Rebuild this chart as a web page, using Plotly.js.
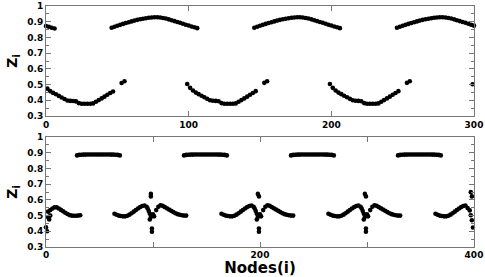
<!DOCTYPE html>
<html>
<head>
<meta charset="utf-8">
<script src="https://cdn.plot.ly/plotly-3.0.1.min.js"></script>
<style>html,body{margin:0;padding:0;background:#fff;}#chart{width:485px;height:277px;}</style>
</head>
<body>
<div id="chart"></div>
<script>
// ---------- Top panel (N = 300) ----------
var topUpperNodes = [0,2,4,6,
  46,48,50,52,54,56,58,60,62,64,66,68,70,72,74,76,78,80,82,84,86,88,90,92,94,96,98,100,102,104,106,
  146,148,150,152,154,156,158,160,162,164,166,168,170,172,174,176,178,180,182,184,186,188,190,192,194,196,198,200,202,204,206,
  246,248,250,252,254,256,258,260,262,264,266,268,270,272,274,276,278,280,282,284,286,288,290,292,294,296,298,300];
var topUpperZ = [0.873,0.868,0.862,0.857,
  0.862,0.868,0.874,0.880,0.886,0.892,0.897,0.902,0.907,0.912,0.916,0.919,0.922,0.925,0.927,0.928,0.928,0.927,0.924,0.920,0.915,0.909,0.904,0.898,0.893,0.887,0.881,0.876,0.870,0.865,0.859,
  0.862,0.868,0.874,0.880,0.886,0.892,0.897,0.902,0.907,0.912,0.916,0.919,0.922,0.925,0.927,0.928,0.928,0.927,0.924,0.920,0.915,0.909,0.904,0.898,0.893,0.887,0.881,0.876,0.870,0.865,0.859,
  0.862,0.868,0.874,0.880,0.886,0.892,0.897,0.902,0.907,0.912,0.916,0.919,0.922,0.925,0.927,0.928,0.928,0.927,0.924,0.920,0.915,0.909,0.904,0.898,0.893,0.887,0.881,0.875];

var topLowerNodes = [1,3,5,7,9,11,13,15,17,19,21,23,25,27,29,31,33,35,37,39,41,43,45,47,53,55,
  99,101,103,105,107,109,111,113,115,117,119,121,123,125,127,129,131,133,135,137,139,141,143,145,147,153,155,
  199,201,203,205,207,209,211,213,215,217,219,221,223,225,227,229,231,233,235,237,239,241,243,245,247,253,255,
  299];
var topLowerZ = [0.474,0.458,0.447,0.438,0.428,0.418,0.408,0.399,0.396,0.395,0.393,0.382,0.378,0.378,0.378,0.378,0.380,0.391,0.401,0.412,0.423,0.435,0.446,0.456,0.510,0.521,
  0.504,0.479,0.462,0.449,0.439,0.429,0.419,0.409,0.400,0.397,0.396,0.394,0.382,0.378,0.378,0.378,0.378,0.380,0.391,0.401,0.412,0.423,0.435,0.446,0.458,0.511,0.521,
  0.504,0.479,0.462,0.449,0.439,0.429,0.419,0.409,0.400,0.397,0.396,0.394,0.382,0.378,0.378,0.378,0.378,0.380,0.391,0.401,0.412,0.423,0.435,0.446,0.458,0.511,0.521,
  0.502];

// ---------- Bottom panel (N = 400) ----------
var botUpperNodes = [29,31,33,35,37,39,41,43,45,47,49,51,53,55,57,59,61,63,65,67,69,
  129,131,133,135,137,139,141,143,145,147,149,151,153,155,157,159,161,163,165,167,169,
  229,231,233,235,237,239,241,243,245,247,249,251,253,255,257,259,261,263,265,267,269,
  329,331,333,335,337,339,341,343,345,347,349,351,353,355,357,359,361,363,365,367,369];
var botUpperZ = [0.883,0.886,0.887,0.888,0.888,0.889,0.889,0.889,0.889,0.889,0.889,0.889,0.889,0.889,0.889,0.889,0.888,0.888,0.887,0.886,0.883,
  0.883,0.886,0.887,0.888,0.888,0.889,0.889,0.889,0.889,0.889,0.889,0.889,0.889,0.889,0.889,0.889,0.888,0.888,0.887,0.886,0.883,
  0.883,0.886,0.887,0.888,0.888,0.889,0.889,0.889,0.889,0.889,0.889,0.889,0.889,0.889,0.889,0.889,0.888,0.888,0.887,0.886,0.883,
  0.883,0.886,0.887,0.888,0.888,0.889,0.889,0.889,0.889,0.889,0.889,0.889,0.889,0.889,0.889,0.889,0.888,0.888,0.887,0.886,0.883];

var botLowerNodes = [
  0,1,2,3,2,4,4,6,8,10,12,14,16,18,20,22,24,26,28,30,32,
  64,66,68,70,72,74,76,78,80,82,84,86,88,90,92,94,95,96,97,98,98,98,97,100,101,99,99,
  103,105,107,109,111,113,115,117,119,121,123,125,127,129,131,
  164,166,168,170,172,174,176,178,180,182,184,186,188,190,192,194,195,196,197,198,199,198,197,200,201,199,199,
  203,205,207,209,211,213,215,217,219,221,223,225,227,229,231,
  264,266,268,270,272,274,276,278,280,282,284,286,288,290,292,294,295,296,297,298,299,298,297,300,301,299,299,
  303,305,307,309,311,313,315,317,319,321,323,325,327,329,331,
  364,366,368,370,372,374,376,378,380,382,384,386,388,390,392,394,396,397,398,397,398,399];
var botLowerZ = [
  0.425,0.400,0.490,0.475,0.525,0.500,0.535,0.545,0.553,0.552,0.545,0.536,0.527,0.518,0.510,0.503,0.500,0.499,0.499,0.500,0.502,
  0.512,0.505,0.500,0.497,0.495,0.495,0.499,0.506,0.515,0.525,0.535,0.545,0.554,0.561,0.564,0.556,0.545,0.529,0.512,0.638,0.622,0.491,0.475,0.508,0.495,0.418,0.397,
  0.535,0.556,0.566,0.562,0.554,0.546,0.538,0.530,0.522,0.515,0.509,0.505,0.502,0.500,0.500,
  0.512,0.505,0.500,0.497,0.495,0.495,0.499,0.506,0.515,0.525,0.535,0.545,0.554,0.561,0.564,0.556,0.545,0.529,0.512,0.638,0.622,0.491,0.475,0.508,0.495,0.418,0.397,
  0.535,0.556,0.566,0.562,0.554,0.546,0.538,0.530,0.522,0.515,0.509,0.505,0.502,0.500,0.500,
  0.512,0.505,0.500,0.497,0.495,0.495,0.499,0.506,0.515,0.525,0.535,0.545,0.554,0.561,0.564,0.556,0.545,0.529,0.512,0.638,0.622,0.491,0.475,0.508,0.495,0.418,0.397,
  0.535,0.556,0.566,0.562,0.554,0.546,0.538,0.530,0.522,0.515,0.509,0.505,0.502,0.500,0.500,
  0.512,0.505,0.500,0.497,0.495,0.495,0.499,0.506,0.515,0.525,0.535,0.545,0.554,0.561,0.564,0.548,0.533,0.649,0.622,0.502,0.470,0.424];

var topTickVals = [0,100,200,300];
var topTickText = ['0','100','200','300'];
var botTickVals = [0,200,400];
var botTickText = ['0','200','400'];
var botMinorTickVals = [100,300];
var yTickVals = [0.3,0.4,0.5,0.6,0.7,0.8,0.9,1];
var yTickText = ['0.3','0.4','0.5','0.6','0.7','0.8','0.9','1'];
var yMinorTickVals = [0.35,0.45,0.55,0.65,0.75,0.85,0.95];

var mk = {color:'#000', size:4.6};
function tr(x,y,xa,ya){return {x:x,y:y,xaxis:xa,yaxis:ya,type:'scatter',mode:'markers',marker:mk,cliponaxis:false,hoverinfo:'none'};}
var data = [
  tr(topUpperNodes, topUpperZ,'x','y'),
  tr(topLowerNodes, topLowerZ,'x','y'),
  tr(botUpperNodes, botUpperZ,'x2','y2'),
  tr(botLowerNodes, botLowerZ,'x2','y2')
];

var tickFont = {family:'DejaVu Sans', size:9, color:'#000', weight:'bold'};
var axLine = '#777';
function xax(range, vals, text, anchor, title, minorVals){
  var a = {range:range, domain:[0,1], anchor:anchor, tickmode:'array', tickvals:vals, ticktext:text,
    ticks:'inside', ticklen:5, tickwidth:1, tickcolor:axLine, showline:true, linecolor:axLine, linewidth:1,
    mirror:'ticks', showgrid:false, zeroline:false, tickfont:tickFont, fixedrange:true, ticklabeloverflow:'allow'};
  if(minorVals) a.minor = {tickmode:'array', tickvals:minorVals, ticks:'inside', ticklen:5, tickcolor:axLine, showgrid:false};
  if(title){
    a.title = {text:title, font:{family:'DejaVu Sans', size:15, color:'#000', weight:'bold'}, standoff:3};
    a.ticklabelstandoff = -1;
  }
  return a;
}
function yax(dom, anchor){
  return {range:[0.3,1], domain:dom, anchor:anchor, tickmode:'array', tickvals:yTickVals, ticktext:yTickText,
    ticks:'inside', ticklen:5, tickwidth:1, tickcolor:axLine, showline:true, linecolor:axLine, linewidth:1,
    mirror:'ticks', showgrid:false, zeroline:false, tickfont:tickFont, fixedrange:true, ticklabeloverflow:'allow',
    minor:{tickmode:'array', tickvals:yMinorTickVals, ticks:'inside', ticklen:3, tickcolor:axLine, showgrid:false},
    title:{text:'Z<sub>i</sub>', font:{family:'DejaVu Sans', size:14, color:'#000', weight:'bold'}, standoff:6}};
}
var layout = {
  width:485, height:277,
  margin:{l:46, r:11, t:6, b:30},
  paper_bgcolor:'#fff', plot_bgcolor:'#fff',
  showlegend:false,
  xaxis: xax([0,300], topTickVals, topTickText, 'y'),
  yaxis: yax([0.5436,1], 'x'),
  xaxis2: xax([0,400], botTickVals, botTickText, 'y2', 'Nodes(i)', botMinorTickVals),
  yaxis2: yax([0,0.4564], 'x2')
};
Plotly.newPlot('chart', data, layout, {displayModeBar:false, staticPlot:true});
</script>
</body>
</html>
